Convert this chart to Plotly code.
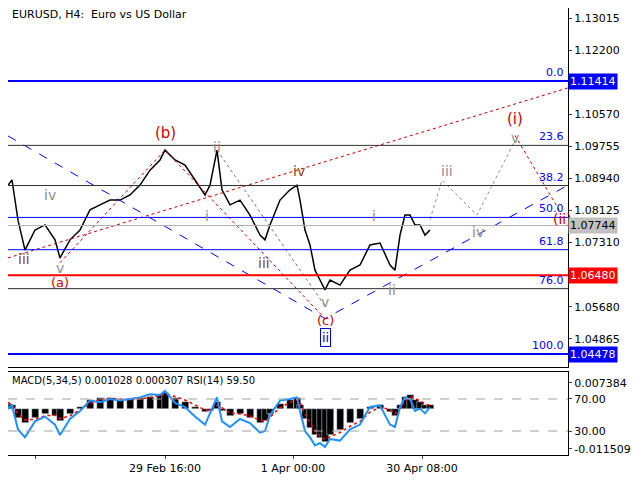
import plotly.graph_objects as go

# ---- data ----
bar_x = [0,6,10,16,23,33,43,53,58,68,78,88,98,108,118,128,138,148,158,163,173,183,193,203,208,215,220,228,238,248,258,263,268,278,288,295,298,303,308,313,318,323,328,338,348,358,368,378,388,393,398,403,408,413,418,423,428]
close = [1.0865,1.0877,1.0890,1.0788,1.0712,1.0763,1.0776,1.0738,1.0692,1.0738,1.0763,1.0814,1.0827,1.0839,1.0839,1.0852,1.0877,1.0915,1.0941,1.0966,1.0941,1.0928,1.0890,1.0852,1.0877,1.0966,1.0865,1.0827,1.0839,1.0801,1.0750,1.0738,1.0776,1.0839,1.0865,1.0877,1.0839,1.0763,1.0725,1.0661,1.0636,1.0611,1.0636,1.0623,1.0661,1.0674,1.0725,1.0730,1.0674,1.0661,1.0750,1.0801,1.0801,1.0776,1.0776,1.0750,1.0763]
macd_hist = [2.0,1.5,1.0,-2.5,-4.0,-2.5,-1.5,-2.0,-3.5,-1.5,0.5,2.5,3.0,3.0,2.5,2.5,3.0,3.5,4.0,4.5,3.0,2.0,0.5,-1.0,-0.5,2.0,-0.5,-2.0,-1.5,-2.5,-4.0,-3.5,-1.5,1.5,2.5,3.0,1.0,-3.0,-5.5,-7.5,-8.5,-9.5,-7.5,-6.0,-4.0,-3.0,0.5,1.0,-1.0,-2.0,1.0,3.5,4.0,2.5,2.0,1.0,1.0]
macd_signal = [2.2,1.8,1.2,-1.5,-3.2,-3.0,-2.0,-1.8,-2.8,-2.0,-0.3,1.5,2.6,3.0,2.8,2.6,2.8,3.2,3.7,4.2,3.5,2.5,1.2,-0.3,-0.5,1.0,0.3,-1.2,-1.5,-2.0,-3.3,-3.6,-2.4,0.3,1.8,2.6,1.8,-1.5,-4.0,-6.3,-7.8,-8.8,-8.0,-6.8,-5.0,-3.6,-1.0,0.5,-0.3,-1.5,0.0,2.3,3.5,3.0,2.3,1.4,1.0]
rsi = [55,58,62,32,22,42,48,38,25,45,55,68,66,70,68,70,72,76,75,80,65,60,48,38,52,72,42,35,45,40,28,30,50,68,70,72,55,30,22,12,15,10,20,18,32,38,60,62,38,35,60,72,70,55,58,52,59.5]

fib_levels = [1.11414,1.09780,1.08760,1.07950,1.07130,1.06140,1.04478]
fib_names = ["0.0","23.6","38.2","50.0","61.8","76.0","100.0"]
fib_colors = ["#0000ff","#303030","#303030","#0000ff","#0000ff","#303030","#0000ff"]
fib_widths = [2,1,1,1,1,1,2]
red_level = 1.06480
last_price = 1.07744

price_ticks = [1.13015,1.12200,1.10570,1.09755,1.08940,1.08125,1.07310,1.05680,1.04865]
x_tick_vals = [33,163,291,420]
x_tick_text = ["31 Jan 2024","29 Feb 16:00","1 Apr 00:00","30 Apr 08:00"]

blue_trend_x = [6,323,566]; blue_trend_y = [1.1002,1.0538,1.0877]
red_trend_x = [6,566]; red_trend_y = [1.0692,1.1124]
abc_x = [58,163,323]; abc_y = [1.0680,1.0966,1.0538]
gray_x = [215,323]; gray_y = [1.0966,1.0570]
proj_x = [428,440,475,513]; proj_y = [1.0790,1.0890,1.0801,1.0990]
proj_red_x = [513,558]; proj_red_y = [1.1003,1.0810]

labels = [
 (163,1.1010,"(b)","#d00000",15),(58,1.0630,"(a)","#d00000",13),(323,1.0532,"(c)","#d00000",13),
 (513,1.1045,"(i)","#d00000",15),(560,1.0790,"(ii)","#d00000",14),
 (445,1.0913,"iii","#909090",14),(476,1.0758,"iv","#909090",14),(513,1.0997,"v","#909090",14),
 (372,1.0798,"i","#909090",14),(390,1.0610,"ii","#909090",14),(262,1.0680,"iii","#8b4513",14),
 (297,1.0914,"iv","#8b4513",14),(323,1.0580,"v","#909090",14),(215,1.0975,"ii","#909090",14),
 (205,1.0798,"i","#909090",14),(22,1.0690,"iii","#8b4513",14),(48,1.0852,"iv","#909090",14),(58,1.0667,"v","#909090",14),
]

fig = go.Figure()
fig.add_trace(go.Scatter(x=bar_x, y=close, mode="lines", line=dict(color="black", width=1.5), xaxis="x", yaxis="y"))
fig.add_trace(go.Bar(x=bar_x, y=[v/1000 for v in macd_hist], marker_color="black", width=7, xaxis="x2", yaxis="y2"))
fig.add_trace(go.Scatter(x=bar_x, y=[v/1000 for v in macd_signal], mode="lines", line=dict(color="red", width=1.5, dash="dot"), xaxis="x2", yaxis="y2"))
fig.add_trace(go.Scatter(x=bar_x, y=rsi, mode="lines", line=dict(color="#1e90ff", width=2), xaxis="x2", yaxis="y3"))

shapes = []
for lv, c, w in zip(fib_levels, fib_colors, fib_widths):
    shapes.append(dict(type="line", xref="x", yref="y", x0=6, x1=566, y0=lv, y1=lv, line=dict(color=c, width=w)))
shapes.append(dict(type="line", xref="x", yref="y", x0=6, x1=566, y0=red_level, y1=red_level, line=dict(color="red", width=2)))
shapes.append(dict(type="line", xref="x", yref="y", x0=6, x1=566, y0=last_price, y1=last_price, line=dict(color="#b0b0b0", width=1)))
for yv in [70,30]:
    shapes.append(dict(type="line", xref="x2", yref="y3", x0=6, x1=566, y0=yv, y1=yv, line=dict(color="#a0a0a0", width=1, dash="dash")))
fig.update_layout(shapes=shapes)

fig.add_trace(go.Scatter(x=blue_trend_x, y=blue_trend_y, mode="lines", line=dict(color="#0000ff", width=1, dash="dash"), xaxis="x", yaxis="y"))
fig.add_trace(go.Scatter(x=red_trend_x, y=red_trend_y, mode="lines", line=dict(color="#c00000", width=1, dash="dot"), xaxis="x", yaxis="y"))
fig.add_trace(go.Scatter(x=abc_x, y=abc_y, mode="lines", line=dict(color="#d00000", width=1, dash="dot"), xaxis="x", yaxis="y"))
fig.add_trace(go.Scatter(x=gray_x, y=gray_y, mode="lines", line=dict(color="#707070", width=1, dash="dot"), xaxis="x", yaxis="y"))
fig.add_trace(go.Scatter(x=proj_x, y=proj_y, mode="lines", line=dict(color="#909090", width=1, dash="dot"), xaxis="x", yaxis="y"))
fig.add_trace(go.Scatter(x=proj_red_x, y=proj_red_y, mode="lines", line=dict(color="#e00000", width=1, dash="dot"), xaxis="x", yaxis="y"))

ann = []
for x, y, t, c, s in labels:
    ann.append(dict(x=x, y=y, xref="x", yref="y", text=t, showarrow=False, font=dict(color=c, size=s, family="DejaVu Sans")))
ann.append(dict(x=323, y=1.0490, xref="x", yref="y", text="ii", showarrow=False, font=dict(color="#0000cc", size=13),
                bordercolor="#0000cc", borderwidth=1, borderpad=1, bgcolor="white"))
for lv, n in zip(fib_levels, fib_names):
    ann.append(dict(x=566, y=lv, xref="x", yref="y", text=n, showarrow=False, xanchor="right", yanchor="bottom",
                    font=dict(color="#0000ff", size=11), xshift=-2))
for lv, bg, fc in [(1.11414,"#0000ff","white"),(last_price,"#c0c0c0","black"),(red_level,"#ff0000","white"),(1.04478,"#0000ff","white")]:
    ann.append(dict(x=1.0, y=lv, xref="paper", yref="y", text=f"{lv:.5f}", showarrow=False, xanchor="left",
                    font=dict(color=fc, size=11), bgcolor=bg, borderpad=1))
ann.append(dict(x=0.0, y=1.0, xref="paper", yref="paper", text="EURUSD, H4:  Euro vs US Dollar", showarrow=False,
                xanchor="left", yanchor="top", font=dict(size=11, color="black"), xshift=2, yshift=2))
ann.append(dict(x=0.0, y=0.1857, xref="paper", yref="paper", text="MACD(5,34,5) 0.001028 0.000307 RSI(14) 59.50",
                showarrow=False, xanchor="left", yanchor="top", font=dict(size=10, color="black"), xshift=2, yshift=-1))
fig.update_layout(annotations=ann)

fig.update_layout(
    width=632, height=472, margin=dict(l=0, r=72, t=0, b=25, pad=0),
    paper_bgcolor="white", plot_bgcolor="white", showlegend=False, bargap=0,
    font=dict(family="DejaVu Sans", size=11, color="black"),
    xaxis=dict(domain=[0,1], range=[6,566], anchor="y", showticklabels=False, showgrid=False, zeroline=False,
               showline=True, linecolor="black", mirror=True),
    yaxis=dict(domain=[0.1969,1], range=[1.0415,1.1327], side="right", tickvals=price_ticks,
               ticktext=[f"{v:.5f}" for v in price_ticks], showgrid=False, zeroline=False,
               showline=True, linecolor="black", mirror=True, ticks="outside", ticklen=3, tickfont=dict(size=11)),
    xaxis2=dict(domain=[0,1], range=[6,566], anchor="y2", tickvals=x_tick_vals, ticktext=x_tick_text,
                showgrid=False, zeroline=False, showline=True, linecolor="black", mirror=True, ticks="outside",
                ticklen=3, tickfont=dict(size=11)),
    yaxis2=dict(domain=[0,0.1857], range=[-0.01323,0.01053], side="right", tickvals=[0.007384,-0.011509],
                ticktext=["0.007384","-0.011509"], showgrid=False, zeroline=False, showline=True, linecolor="black",
                mirror=True, ticks="outside", ticklen=3, tickfont=dict(size=11)),
    yaxis3=dict(overlaying="y2", range=[0,103.75], side="right", tickvals=[70,30], ticktext=["70.00","30.00"],
                showgrid=False, zeroline=False, ticks="outside", ticklen=3, tickfont=dict(size=11)),
)
fig.write_html("out.html")
